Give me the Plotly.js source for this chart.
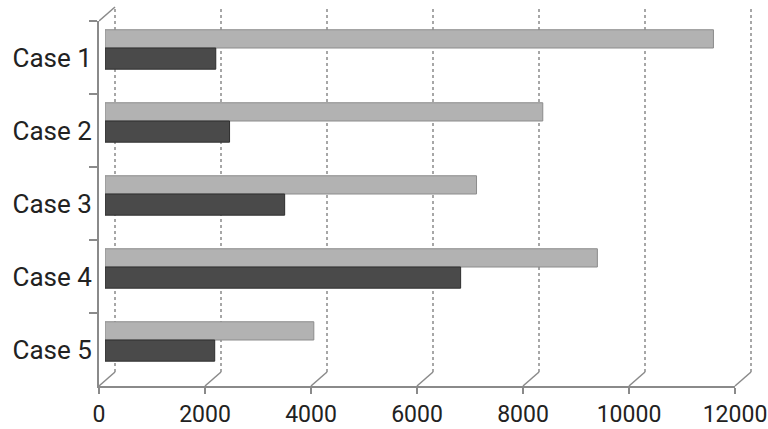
<!DOCTYPE html>
<html>
<head>
<meta charset="utf-8">
<script src="https://cdn.plot.ly/plotly-3.0.1.min.js"></script>
<style>html,body{margin:0;padding:0;background:#fff;}#chart{width:768px;height:429px;}</style>
</head>
<body>
<div id="chart"></div>
<script>
// Data
var cases = ["Case 1", "Case 2", "Case 3", "Case 4", "Case 5"];
var seriesLight = [11480, 8260, 7010, 9290, 3940];
var seriesDark = [2090, 2350, 3390, 6710, 2070];
var xTicks = [0, 2000, 4000, 6000, 8000, 10000, 12000];
var xMin = 0, xMax = 12000;

var W = 768, H = 429;
var mL = 99, mR = 17, mT = 7, mB = 43;
var pw = W - mL - mR, ph = H - mT - mB;
var depthX = 16, depthY = 14;     // 3D back-wall offset in px
var barShiftX = 6;                // bars drawn slightly behind the front plane
var xDomEnd = (pw - depthX) / pw;
var frontTop = (ph - depthY) / ph;

var fontFam = "Roboto, 'DejaVu Sans', sans-serif";

var traces = [
  {
    type: "bar", orientation: "h", name: "Series A",
    y: cases, x: seriesLight, xaxis: "x3", yaxis: "y",
    offset: -0.38, width: 0.25,
    marker: {color: "#b2b2b2", line: {color: "#8c8c8c", width: 1}},
    hoverinfo: "x+y"
  },
  {
    type: "bar", orientation: "h", name: "Series B",
    y: cases, x: seriesDark, xaxis: "x3", yaxis: "y",
    offset: -0.13, width: 0.29,
    marker: {color: "#4a4a4a", line: {color: "#2e2e2e", width: 1}},
    hoverinfo: "x+y"
  }
];

var shapes = [];
xTicks.forEach(function (v) {
  var f = xDomEnd * (v - xMin) / (xMax - xMin);
  // back-wall gridline (dotted)
  shapes.push({
    type: "line", layer: "below",
    xref: "paper", xsizemode: "pixel", xanchor: f, x0: depthX, x1: depthX,
    yref: "paper", y0: depthY / ph, y1: 1,
    line: {color: "#8a8a8a", width: 1.5, dash: "dot"}
  });
  // diagonal floor connector from the front tick to the back-wall gridline
  shapes.push({
    type: "line", layer: "below",
    xref: "paper", xsizemode: "pixel", xanchor: f, x0: 0, x1: depthX,
    yref: "paper", ysizemode: "pixel", yanchor: 0, y0: 0, y1: depthY,
    line: {color: "#8a8a8a", width: 1.5}
  });
});
// top-left corner connector (references the main x axis so its subplot is drawn)
shapes.push({
  type: "line", layer: "below",
  xref: "x", xsizemode: "pixel", xanchor: xMin, x0: 0, x1: depthX,
  yref: "paper", ysizemode: "pixel", yanchor: frontTop, y0: 0, y1: depthY,
  line: {color: "#8a8a8a", width: 1.5}
});

var layout = {
  width: W, height: H,
  margin: {l: mL, r: mR, t: mT, b: mB, pad: 0},
  paper_bgcolor: "#fff", plot_bgcolor: "rgba(0,0,0,0)",
  showlegend: false,
  barmode: "overlay",
  font: {family: fontFam, size: 24, color: "#222"},
  xaxis: {
    domain: [0, xDomEnd], anchor: "y",
    range: [xMin, xMax], tickvals: xTicks, ticktext: xTicks.map(String),
    showgrid: false, zeroline: false,
    showline: true, linecolor: "#8a8a8a", linewidth: 2,
    ticks: "outside", ticklen: 6, tickwidth: 2, tickcolor: "#8a8a8a",
    ticklabeloverflow: "allow",
    tickfont: {family: fontFam, size: 23, color: "#222"}
  },
  xaxis3: {
    domain: [barShiftX / pw, (pw - depthX + barShiftX) / pw], anchor: "y",
    range: [xMin, xMax], showgrid: false, zeroline: false, showline: false,
    showticklabels: false, ticks: ""
  },
  yaxis: {
    domain: [0, frontTop], anchor: "x",
    type: "category", categoryorder: "array", categoryarray: cases,
    range: [4.5, -0.5],
    showgrid: false, zeroline: false,
    showline: true, linecolor: "#8a8a8a", linewidth: 2,
    ticks: "outside", tickson: "boundaries", ticklen: 8, tickwidth: 2, tickcolor: "#8a8a8a",
    tickfont: {family: fontFam, size: 26, color: "#222"}
  },
  shapes: shapes
};

Plotly.newPlot("chart", traces, layout, {displayModeBar: false, staticPlot: true});
</script>
</body>
</html>
